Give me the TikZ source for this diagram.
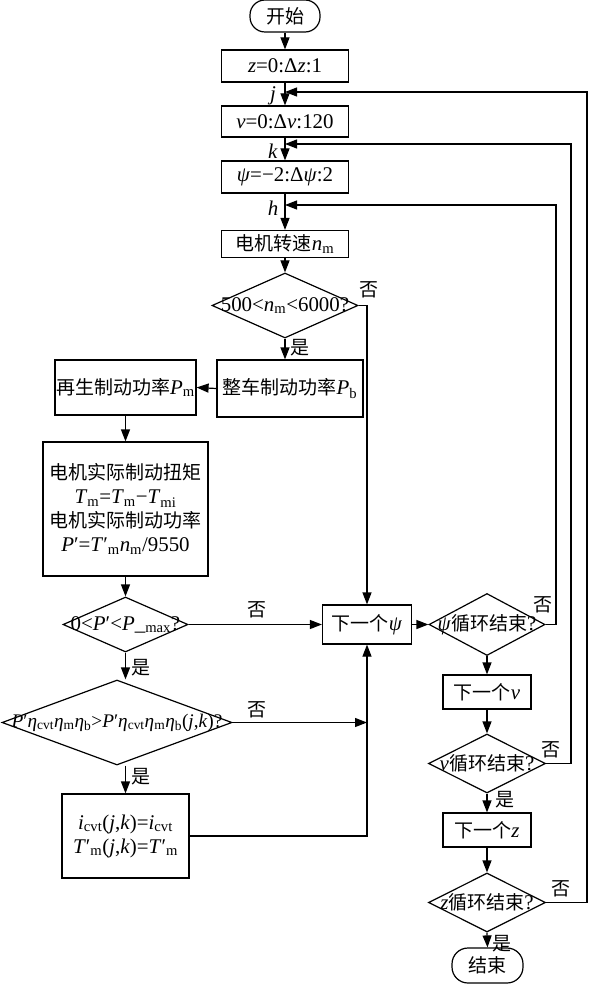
\documentclass[tikz,border=0pt]{standalone}
\usepackage{fontspec}
\setmainfont{Liberation Serif}[Scale=1.1]
\newfontfamily\cjk{Noto Sans CJK SC}
\usetikzlibrary{shapes.geometric,arrows.meta}
\newcommand\zh[1]{{\cjk #1}}
\newcommand\vi[1]{\textit{#1}}
\newcommand\sbs[1]{\textsubscript{#1}}
\begin{document}
\begin{tikzpicture}[x=1pt,y=-1pt,
  every node/.style={font=\fontsize{19}{24}\selectfont, inner sep=0pt},
  box/.style={draw, rectangle, line width=1.2pt, align=center},
  term/.style={draw, rectangle, rounded corners=15pt, line width=1.2pt},
  dia/.style={draw, diamond, line width=1.2pt},
  arr/.style={line width=1.2pt, -{Triangle[length=12pt,width=9pt]}},
  lab/.style={font=\fontsize{19}{22}\selectfont}]
\useasboundingbox (0,0) rectangle (589,987);
% main column
\node[term, minimum width=70pt, minimum height=32pt] (start) at (285,16) {\zh{开始}};
\node[box, minimum width=127pt, minimum height=32pt] (b1) at (285,66) {\vi{z}=0:Δ\vi{z}:1};
\node[box, minimum width=127pt, minimum height=31pt] (b2) at (285,121.5) {\vi{v}=0:Δ\vi{v}:120};
\node[box, minimum width=127pt, minimum height=32pt] (b3) at (285,177) {\vi{ψ}=−2:Δ\vi{ψ}:2};
\node[box, minimum width=127pt, minimum height=27pt] (b4) at (285,244) {\zh{电机转速}\vi{n}\sbs{m}};
\node[dia, minimum width=146pt, minimum height=65pt] (d1) at (285,305.5) {\makebox[0pt]{500<\vi{n}\sbs{m}<6000?}};
\node[box, minimum width=146pt, minimum height=57pt] (b5) at (290,388.5) {\zh{整车制动功率}\vi{P}\sbs{b}};
\node[box, minimum width=141pt, minimum height=55pt] (b6) at (125.5,387.5) {\zh{再生制动功率}\vi{P}\sbs{m}};
\node[box, minimum width=165pt, minimum height=134pt] (b7) at (125.5,509)
  {\zh{电机实际制动扭矩}\\ \vi{T}\sbs{m}=\vi{T}\sbs{m}−\vi{T}\sbs{mi}\\ \zh{电机实际制动功率}\\ \vi{P}′=\vi{T}′\sbs{m}\vi{n}\sbs{m}/9550};
\node[dia, minimum width=125pt, minimum height=55pt] (d2) at (125.5,624.5) {\makebox[0pt]{0<\vi{P}′<\vi{P}\_\sbs{max}?}};
\node[dia, minimum width=230pt, minimum height=85pt, font=\fontsize{17.5}{22}\selectfont] (d3) at (117,722.5)
  {\makebox[0pt]{\vi{P}′\vi{η}\sbs{cvt}\vi{η}\sbs{m}\vi{η}\sbs{b}>\vi{P}′\vi{η}\sbs{cvt}\vi{η}\sbs{m}\vi{η}\sbs{b}(\vi{j},\vi{k})?}};
\node[box, minimum width=127pt, minimum height=84pt] (b8) at (125.5,836)
  {\vi{i}\sbs{cvt}(\vi{j},\vi{k})=\vi{i}\sbs{cvt}\\ \vi{T}′\sbs{m}(\vi{j},\vi{k})=\vi{T}′\sbs{m}};
% right column
\node[box, minimum width=89pt, minimum height=39pt] (bn) at (367,624.5) {\zh{下一个}\vi{ψ}};
\node[dia, minimum width=116pt, minimum height=62pt] (d4) at (487,624.5) {\makebox[0pt]{\vi{ψ}\zh{循环结束}?}};
\node[box, minimum width=88pt, minimum height=34pt] (bv) at (487,692) {\zh{下一个}\vi{v}};
\node[dia, minimum width=117pt, minimum height=59pt] (d5) at (487,763.5) {\makebox[0pt]{\vi{v}\zh{循环结束}?}};
\node[box, minimum width=88pt, minimum height=34pt] (bz) at (487,830) {\zh{下一个}\vi{z}};
\node[dia, minimum width=117pt, minimum height=59pt] (d6) at (487,902.5) {\makebox[0pt]{\vi{z}\zh{循环结束}?}};
\node[term, minimum width=71pt, minimum height=35pt, rounded corners=16pt] (end) at (487.5,965.5) {\zh{结束}};
% loop coordinates
\coordinate (rj) at (587,92);
\coordinate (rk) at (571,144);
\coordinate (rh) at (556,205);
% labels
\node[lab] (lj) at (273,96) {\vi{j}};
\node[lab] (lk) at (273,151) {\vi{k}};
\node[lab] (lh) at (273,208) {\vi{h}};
\node[lab] (n1) at (369,290) {\zh{否}};
\node[lab] (y1) at (300,348) {\zh{是}};
\node[lab] (n2) at (257,610) {\zh{否}};
\node[lab] (y2) at (141,668) {\zh{是}};
\node[lab] (n3) at (257,710) {\zh{否}};
\node[lab] (y3) at (141,777) {\zh{是}};
\node[lab] (n4) at (543,605) {\zh{否}};
\node[lab] (n5) at (551,750) {\zh{否}};
\node[lab] (y5) at (505,800) {\zh{是}};
\node[lab] (n6) at (561,889) {\zh{否}};
\node[lab] (y6) at (502,944) {\zh{是}};
% connectors
\draw[arr] (start) -- (b1);
\draw[arr] (b1) -- (b2);
\draw[arr] (b2) -- (b3);
\draw[arr] (b3) -- (b4);
\draw[arr] (b4) -- (d1);
\draw[arr] (d1.south) -- (d1.south |- b5.north);
\draw[arr] (b5.west) -- (b6.east);
\draw[arr] (b6) -- (b7);
\draw[arr] (b7) -- (d2);
\draw[arr] (d2.east) -- (bn.west);
\draw[arr] (d2.south) -- (d2.south |- d3.north);
\draw[arr] (d2.south |- d3.south) -- (b8.north);
\draw[arr] (d3.east) -- (d3.east -| bn.south);
\draw[arr] (b8.east) -| (bn.south);
\draw[arr] (d1.east) -| (bn.north);
\draw[arr] (bn.east) -- (d4.west);
\draw[arr] (d4.east) -| (rh) -- (rh -| b3.south);
\draw[arr] (d4.south) -- (bv.north);
\draw[arr] (bv) -- (d5);
\draw[arr] (d5.east) -| (rk) -- (rk -| b2.south);
\draw[arr] (d5.south) -- (bz.north);
\draw[arr] (bz) -- (d6);
\draw[arr] (d6.east) -| (rj) -- (rj -| b1.south);
\draw[arr] (d6.south) -- (end.north);
\end{tikzpicture}
\end{document}
